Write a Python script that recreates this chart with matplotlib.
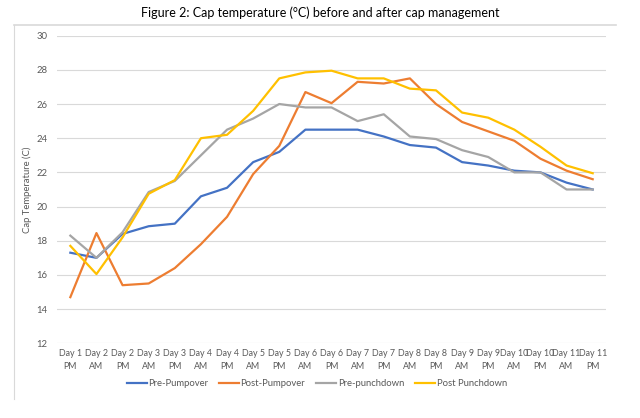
import matplotlib
matplotlib.use("Agg")
import matplotlib.pyplot as plt
from matplotlib.lines import Line2D

plt.rcParams['font.family'] = ['Lato', 'DejaVu Sans']

# readings per half-day, Day 1 PM .. Day 11 PM
labels = ['Day 1\nPM', 'Day 2\nAM', 'Day 2\nPM', 'Day 3\nAM', 'Day 3\nPM', 'Day 4\nAM', 'Day 4\nPM',
          'Day 5\nAM', 'Day 5\nPM', 'Day 6\nAM', 'Day 6\nPM', 'Day 7\nAM', 'Day 7\nPM', 'Day 8\nAM',
          'Day 8\nPM', 'Day 9\nAM', 'Day 9\nPM', 'Day 10\nAM', 'Day 10\nPM', 'Day 11\nAM', 'Day 11\nPM']

pre_pumpover = [17.3, 17.0, 18.4, 18.85, 19.0, 20.6, 21.1, 22.6, 23.2, 24.5, 24.5,
                24.5, 24.1, 23.6, 23.45, 22.6, 22.4, 22.1, 22.0, 21.4, 21.0]
post_pumpover = [14.7, 18.45, 15.4, 15.5, 16.4, 17.8, 19.4, 21.9, 23.55, 26.7, 26.05,
                 27.3, 27.2, 27.5, 26.0, 24.95, 24.4, 23.85, 22.8, 22.1, 21.6]
pre_punchdown = [18.3, 17.0, 18.5, 20.85, 21.5, 23.0, 24.5, 25.15, 26.0, 25.8, 25.8,
                 25.0, 25.4, 24.1, 23.95, 23.3, 22.9, 22.0, 22.0, 21.0, 21.0]
post_punchdown = [17.7, 16.05, 18.2, 20.75, 21.55, 24.0, 24.2, 25.6, 27.5, 27.85, 27.95,
                  27.5, 27.5, 26.9, 26.8, 25.5, 25.2, 24.5, 23.5, 22.4, 21.95]

series = [('Pre-Pumpover', pre_pumpover, '#4472C4'),
          ('Post-Pumpover', post_pumpover, '#ED7D31'),
          ('Pre-punchdown', pre_punchdown, '#A5A5A5'),
          ('Post Punchdown', post_punchdown, '#FFC000')]

fig = plt.figure(figsize=(6.4, 4.18), dpi=100)
ax = fig.add_axes([0.0895, 0.1787, 0.857, 0.736])

x = list(range(len(labels)))
for name, vals, col in series:
  ax.plot(x, vals, color=col, lw=1.6, label=name)

ax.set_xlim(-0.5, len(labels) - 0.5)
ax.set_ylim(12, 30)
ax.set_yticks(range(12, 31, 2))
ax.set_xticks(x)
ax.set_xticklabels(labels, fontsize=6.4, color='#595959', linespacing=1.6)
ax.tick_params(axis='y', labelsize=6.8, labelcolor='#595959', length=0, pad=7)
ax.tick_params(axis='x', length=0, pad=4)
ax.grid(axis='y', color='#D9D9D9', lw=0.8)
ax.set_axisbelow(True)
for s in ax.spines.values():
  s.set_visible(False)
ax.set_ylabel('Cap Temperature (C)', fontsize=6.8, color='#595959', labelpad=3)

fig.suptitle('Figure 2: Cap temperature (°C) before and after cap management', fontsize=9, y=0.985)

# chart frame (left and top edges only)
fig.add_artist(Line2D([14/640, 14/640], [1 - 399/418, 1 - 25/418], color='#D9D9D9', lw=0.8))
fig.add_artist(Line2D([14/640, 616/640], [1 - 25/418, 1 - 25/418], color='#D9D9D9', lw=1.2))

fig.legend(loc='center', bbox_to_anchor=(0.495, 1 - 384/418), ncol=4, frameon=False,
           fontsize=6.8, handlelength=2.1, columnspacing=1.2, handletextpad=0.15,
           labelcolor='#595959')

plt.savefig('out.png', dpi=100)
